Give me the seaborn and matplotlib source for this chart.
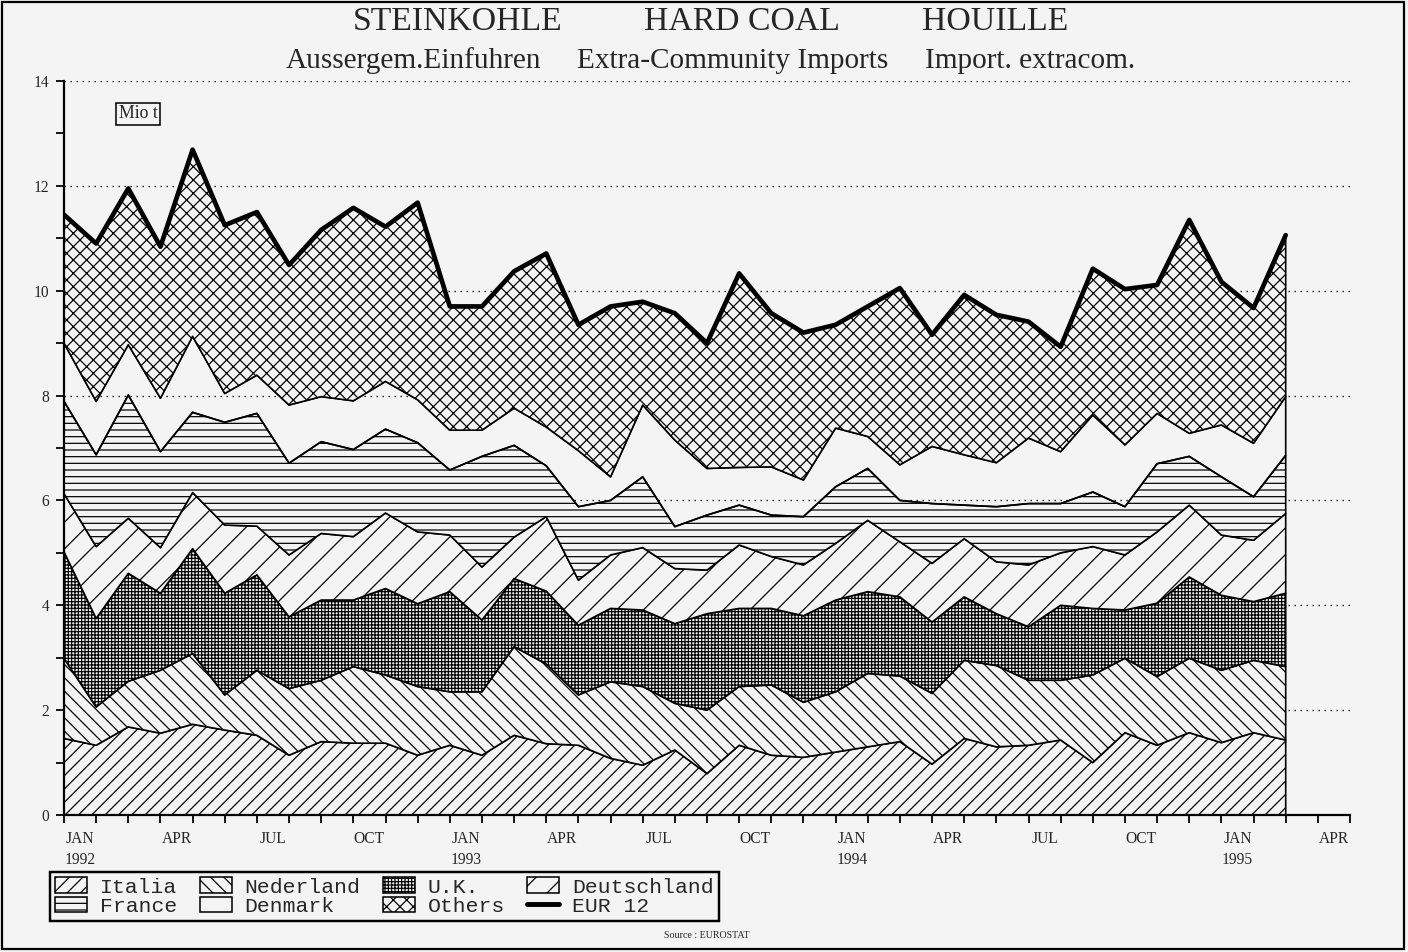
import numpy as np
import pandas as pd
import matplotlib
matplotlib.use("Agg")
import matplotlib.pyplot as plt
from matplotlib.patches import Patch, Rectangle
from matplotlib.lines import Line2D
import seaborn as sns

# ---- data (Mio t), monthly Jan 1992 .. Mar 1995 ----
italia = [1.46, 1.33, 1.68, 1.56, 1.73, 1.62, 1.52, 1.14, 1.40, 1.37, 1.37, 1.14, 1.33,
          1.14, 1.52, 1.36, 1.33, 1.08, 0.95, 1.24, 0.79, 1.33, 1.14, 1.10, 1.20, 1.30,
          1.40, 0.97, 1.46, 1.30, 1.33, 1.43, 1.00, 1.57, 1.33, 1.57, 1.38, 1.57, 1.43]
nederland = [1.53, 0.73, 0.87, 1.20, 1.35, 0.67, 1.24, 1.27, 1.17, 1.46, 1.30, 1.31, 1.02,
             1.21, 1.69, 1.52, 0.96, 1.46, 1.50, 0.89, 1.21, 1.12, 1.34, 1.05, 1.15, 1.40,
             1.25, 1.35, 1.49, 1.55, 1.24, 1.14, 1.67, 1.42, 1.31, 1.42, 1.38, 1.38, 1.40]
uk = [2.03, 1.69, 2.06, 1.47, 2.00, 1.94, 1.82, 1.37, 1.53, 1.27, 1.65, 1.58, 1.91,
      1.37, 1.30, 1.39, 1.33, 1.40, 1.46, 1.52, 1.84, 1.49, 1.46, 1.65, 1.75, 1.56,
      1.51, 1.36, 1.21, 0.99, 1.02, 1.43, 1.27, 0.92, 1.40, 1.55, 1.43, 1.12, 1.40]
deutschland = [1.11, 1.37, 1.05, 0.87, 1.07, 1.30, 0.93, 1.18, 1.27, 1.21, 1.44, 1.37, 1.08,
               1.01, 0.79, 1.42, 0.86, 1.02, 1.19, 1.05, 0.83, 1.21, 0.99, 0.97, 1.08, 1.36,
               1.05, 1.12, 1.11, 0.99, 1.18, 1.00, 1.18, 1.05, 1.36, 1.37, 1.15, 1.17, 1.52]
france = [1.76, 1.75, 2.35, 1.83, 1.53, 1.96, 2.15, 1.75, 1.75, 1.66, 1.60, 1.70, 1.24,
          2.11, 1.75, 0.97, 1.40, 1.04, 1.35, 0.80, 1.05, 0.76, 0.79, 0.92, 1.08, 0.99,
          0.79, 1.14, 0.64, 1.05, 1.17, 0.94, 1.04, 0.92, 1.30, 0.93, 1.11, 0.83, 1.11]
denmark = [1.11, 1.02, 0.96, 1.02, 1.45, 0.55, 0.73, 1.11, 0.86, 0.93, 0.91, 0.82, 0.76,
           0.50, 0.71, 0.74, 1.07, 0.45, 1.37, 1.65, 0.89, 0.72, 0.92, 0.70, 1.12, 0.61,
           0.68, 1.09, 0.96, 0.84, 1.25, 0.99, 1.47, 1.18, 0.96, 0.44, 0.99, 1.02, 1.12]
others = [2.45, 3.01, 2.98, 2.89, 3.56, 3.21, 3.11, 2.67, 3.18, 3.68, 2.95, 3.76, 2.36,
          2.36, 2.61, 3.31, 2.40, 3.25, 1.97, 2.42, 2.39, 3.70, 2.93, 2.81, 1.97, 2.48,
          3.37, 2.13, 3.05, 2.82, 2.22, 2.00, 2.79, 2.97, 2.45, 4.07, 2.73, 2.58, 3.08]

series_names = ["Italia", "Nederland", "U.K.", "Deutschland", "France", "Denmark", "Others"]
tick_labels = ["JAN\n1992", "APR", "JUL", "OCT", "JAN\n1993", "APR", "JUL", "OCT",
               "JAN\n1994", "APR", "JUL", "OCT", "JAN\n1995", "APR"]
hatches = ["////", "\\\\\\\\", "++++++++", "//", "----", "", "xxxx"]

# ---- style ----
sns.set_theme(style="white")
BG = "#f4f4f4"
plt.rcParams.update({
    "hatch.linewidth": 0.55,
    "font.family": ["Liberation Serif", "DejaVu Serif"],
    "axes.facecolor": BG,
    "figure.facecolor": BG,
})

W, H = 1408, 952
fig = plt.figure(figsize=(W / 160, H / 160), dpi=160)
ax = fig.add_axes([64 / W, 1 - 815 / H, (1350 - 64) / W, (815 - 81) / H])
ax.set_facecolor(BG)

x = np.arange(len(italia))
ys = np.vstack([italia, nederland, uk, deutschland, france, denmark, others])
df = pd.DataFrame(ys.T, columns=series_names)
df["EUR 12"] = df[series_names].sum(axis=1)
df["month"] = x

polys = ax.stackplot(x, ys, colors=[BG] * len(series_names), edgecolor="black",
                     linewidth=0.75, zorder=2)
for poly, h, name in zip(polys, hatches, series_names):
    poly.set_hatch(h)
    if name == "Denmark":
        poly.set_facecolor("none")

sns.lineplot(data=df, x="month", y="EUR 12", ax=ax, color="black", lw=2.1, zorder=4,
             legend=False)

ax.set_xlim(0, 40)
ax.set_ylim(0, 14)
ax.set_xlabel("")
ax.set_ylabel("")

# grid
ax.set_axisbelow(True)
ax.yaxis.grid(True, linestyle=(0, (1, 3.5)), color="black", lw=0.6)
ax.xaxis.grid(False)

# ticks
ax.set_xticks(np.arange(0.5, 40, 3))
ax.set_xticklabels(tick_labels, fontsize=7, linespacing=1.45)
ax.set_xticks(np.arange(0, 41), minor=True)
ax.tick_params(axis="x", which="major", length=0, pad=7, bottom=True)
ax.tick_params(axis="x", which="minor", length=3.6, width=0.8, direction="out",
               color="black", bottom=True)
ax.set_yticks(range(0, 15, 2))
ax.set_yticklabels([str(v) for v in range(0, 15, 2)], fontsize=7)
ax.set_yticks(range(1, 14, 2), minor=True)
ax.tick_params(axis="y", which="both", length=3.6, width=0.8, direction="out",
               color="black", left=True, pad=3)

sns.despine(ax=ax)
for s in ("left", "bottom"):
    ax.spines[s].set_color("black")
    ax.spines[s].set_linewidth(1.0)

# titles
for txt, xc in (("STEINKOHLE", 458), ("HARD COAL", 742), ("HOUILLE", 995)):
    fig.text(xc / W, 1 - 22 / H, txt, ha="center", va="center", fontsize=15.2)
for txt, xc in (("Aussergem.Einfuhren", 413), ("Extra-Community Imports", 733),
                ("Import. extracom.", 1030)):
    fig.text(xc / W, 1 - 61 / H, txt, ha="center", va="center", fontsize=13.2)

fig.text(138 / W, 1 - 114 / H, "Mio t", ha="center", va="center", fontsize=8,
         bbox=dict(boxstyle="square,pad=0.15", fc=BG, ec="black", lw=0.7))
fig.text(707 / W, 1 - 936 / H, "Source : EUROSTAT", ha="center", va="center",
         fontsize=4.5)

# legend
handles = {name: Patch(facecolor=BG if name != "Denmark" else "none",
                       edgecolor="black", hatch=h, lw=0.7)
           for name, h in zip(series_names, hatches)}
handles["EUR 12"] = Line2D([], [], color="black", lw=2.2)
order = ["Italia", "France", "Nederland", "Denmark", "U.K.", "Others", "Deutschland", "EUR 12"]
leg = fig.legend([handles[o] for o in order], order, ncol=4, loc="upper left",
                 bbox_to_anchor=(50 / W, 1 - 872 / H), bbox_transform=fig.transFigure,
                 frameon=True, fancybox=False, edgecolor="black", framealpha=1,
                 facecolor=BG, prop={"family": "Liberation Mono", "size": 9.6},
                 handlelength=1.5, handleheight=0.75, handletextpad=0.6,
                 columnspacing=1.05, borderpad=0.25, labelspacing=0.0, borderaxespad=0)
leg.get_frame().set_linewidth(1.1)

fig.add_artist(Rectangle((0.0015, 0.003), 0.996, 0.995, transform=fig.transFigure,
                         fill=False, ec="black", lw=1.0))

fig.savefig("out.png", dpi=160, facecolor=BG)
